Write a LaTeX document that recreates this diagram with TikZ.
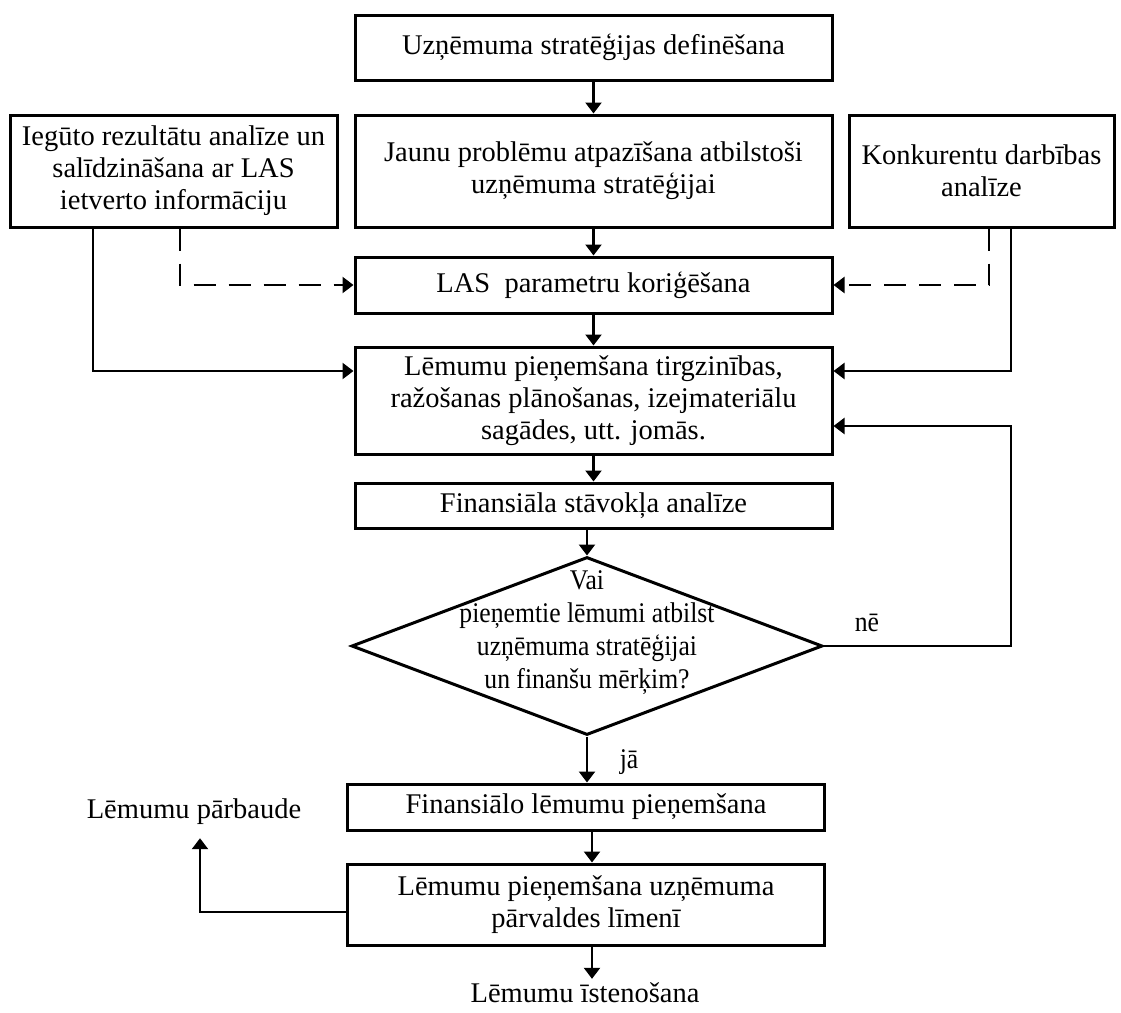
\documentclass[tikz,border=0pt]{standalone}
\usepackage{fontspec}
\setmainfont{Liberation Serif}
\newfontfamily\narrowserif[FakeStretch=0.9]{Liberation Serif}
\usetikzlibrary{arrows.meta,shapes.geometric}
\begin{document}
\begin{tikzpicture}[x=1pt,y=-1pt,
  box/.style={draw, line width=3pt, align=center, inner sep=0pt,
    font=\fontsize{28.5}{32}\selectfont},
  arr/.style={line width=2.3pt, -{Triangle[length=11pt,width=16pt]}},
  dsh/.style={arr, dash pattern=on 22pt off 13pt},
  lbl/.style={inner xsep=0pt, font=\fontsize{28.5}{32}\selectfont,
    text height=20pt, text depth=6pt},
  cond/.style={inner sep=0pt, align=center,
    font=\narrowserif\fontsize{28.5}{33}\selectfont}
]
\useasboundingbox (0,0) rectangle (1121,1012);

% main column
\node[box, minimum width=477, minimum height=65] (top) at (593.5,47.5)
  {Uzņēmuma stratēģijas definēšana};
\node[box, minimum width=477, minimum height=112] (jaunu) at (593.5,171)
  {Jaunu problēmu atpazīšana atbilstoši\\uzņēmuma stratēģijai};
\node[box, minimum width=327, minimum height=112] (left) at (173.5,171)
  {Iegūto rezultātu analīze un\\salīdzināšana ar LAS\\ietverto informāciju};
\node[box, minimum width=265, minimum height=112] (right) at (981.5,171)
  {Konkurentu darbības\\analīze};
\node[box, minimum width=477, minimum height=56] (las) at (593.5,285)
  {LAS\ \ parametru koriģēšana};
\node[box, minimum width=477, minimum height=107] (lem) at (593.5,400.5)
  {Lēmumu pieņemšana tirgzinības,\\ražošanas plānošanas, izejmateriālu\\sagādes, utt. jomās.};
\node[box, minimum width=477, minimum height=45] (fin) at (593.5,505.5)
  {Finansiāla stāvokļa analīze};

% decision
\node[draw, diamond, line width=3pt, minimum width=471, minimum height=178,
  inner sep=0pt] (dec) at (587,646) {};
\node[cond] (dectext) at (587,633)
  {Vai\\pieņemtie lēmumi atbilst\\uzņēmuma stratēģijai\\un finanšu mērķim?};
\node[cond] (ne) at (867,623) {nē};
\node[cond] (ja) at (629,762) {jā};

\node[box, minimum width=477, minimum height=46] (fino) at (586,807)
  {Finansiālo lēmumu pieņemšana};
\node[box, minimum width=477, minimum height=81] (bot) at (586,904.5)
  {Lēmumu pieņemšana uzņēmuma\\pārvaldes līmenī};

\node[lbl, inner ysep=14pt, anchor=base] (check) at (194,818) {Lēmumu pārbaude};
\node[lbl, inner ysep=3pt, anchor=base] (ist) at (585,1002) {Lēmumu īstenošana};

% vertical flow
\draw[arr] (top.south) -- (jaunu.north);
\draw[arr] (jaunu.south) -- (las.north);
\draw[arr] (las.south) -- (lem.north);
\draw[arr] (lem.south) -- (fin.north);
\draw[arr] ([xshift=-6.5pt]fin.south) -- (dec.north);
\draw[arr] (dec.south) -- (dec.south |- fino.north);
\draw[arr] ([xshift=6pt]fino.south) -- ([xshift=6pt]bot.north);
\draw[arr] ([xshift=6pt]bot.south) -- ([xshift=6pt]bot.south |- ist.north);

% side inputs
\draw[arr] ([xshift=-80.5pt]left.south) |- ([yshift=29.5pt]lem.west);
\draw[dsh] ([xshift=6.5pt]left.south) |- (las.west);
\draw[dsh] ([xshift=7.5pt]right.south) |- (las.east);
\draw[arr] ([xshift=29.5pt]right.south) |- ([yshift=29.5pt]lem.east);

% "no" loop back
\coordinate (loop) at (1011,426);
\draw[arr] (dec.east) -| (loop) -- (loop -| lem.east);

% check branch
\draw[arr] ([yshift=-7.5pt]bot.west) -| ([xshift=6pt]check.south);
\end{tikzpicture}
\end{document}
